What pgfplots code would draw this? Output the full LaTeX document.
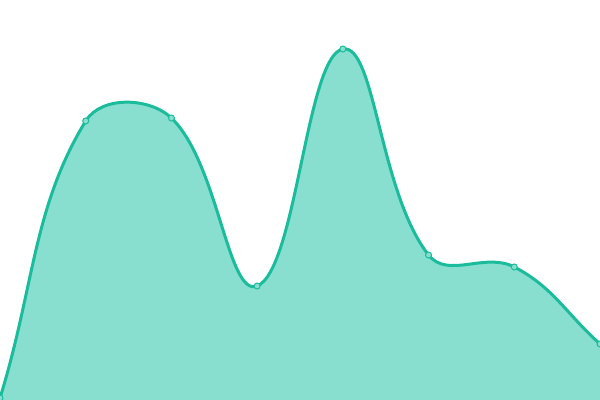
\documentclass[border=0pt]{standalone}
\usepackage{pgfplots}
\pgfplotsset{compat=1.18}
\definecolor{linec}{HTML}{1ABC9C}
\definecolor{fillc}{HTML}{88DFD0}
\makeatletter
% distance-weighted spline plot handler (tension 0.4)
\def\cj@t{0.4}
\newcount\cj@n
\def\cj@controls{%
  \pgfmathsetmacro\cj@da{veclen((\cj@Cx)-(\cj@Px),(\cj@Cy)-(\cj@Py))}%
  \pgfmathsetmacro\cj@db{veclen((\cj@Nx)-(\cj@Cx),(\cj@Ny)-(\cj@Cy))}%
  \pgfmathsetmacro\cj@fa{\cj@t*(\cj@da)/((\cj@da)+(\cj@db))}%
  \pgfmathsetmacro\cj@fb{\cj@t*(\cj@db)/((\cj@da)+(\cj@db))}%
  \pgfmathsetmacro\cj@vx{(\cj@Nx)-(\cj@Px)}%
  \pgfmathsetmacro\cj@vy{(\cj@Ny)-(\cj@Py)}%
  \pgfmathsetmacro\cj@PCx{(\cj@Cx)-(\cj@fa)*(\cj@vx)}%
  \pgfmathsetmacro\cj@PCy{(\cj@Cy)-(\cj@fa)*(\cj@vy)}%
  \pgfmathsetmacro\cj@NCx{(\cj@Cx)+(\cj@fb)*(\cj@vx)}%
  \pgfmathsetmacro\cj@NCy{(\cj@Cy)+(\cj@fb)*(\cj@vy)}%
}
\def\cj@point#1{%
  \pgf@process{#1}%
  \edef\cj@Nx{\pgf@sys@tonumber\pgf@x}\edef\cj@Ny{\pgf@sys@tonumber\pgf@y}%
  \ifnum\cj@n=0
    \pgf@plot@first@action{\pgfqpoint{\cj@Nx pt}{\cj@Ny pt}}%
    \xdef\cj@Px{\cj@Nx}\xdef\cj@Py{\cj@Ny}%
    \xdef\cj@Cx{\cj@Nx}\xdef\cj@Cy{\cj@Ny}%
    \global\cj@n=1
  \else
    \cj@controls
    \ifnum\cj@n>1
      \pgfpathcurveto{\pgfqpoint{\cj@SNx pt}{\cj@SNy pt}}{\pgfqpoint{\cj@PCx pt}{\cj@PCy pt}}{\pgfqpoint{\cj@Cx pt}{\cj@Cy pt}}%
    \fi
    \xdef\cj@SNx{\cj@NCx}\xdef\cj@SNy{\cj@NCy}%
    \xdef\cj@Px{\cj@Cx}\xdef\cj@Py{\cj@Cy}%
    \xdef\cj@Cx{\cj@Nx}\xdef\cj@Cy{\cj@Ny}%
    \global\cj@n=2
  \fi}
\def\cj@finish{%
  \ifnum\cj@n>1
    \pgfmathsetmacro\cj@PCx{(\cj@Cx)-\cj@t*((\cj@Cx)-(\cj@Px))}%
    \pgfmathsetmacro\cj@PCy{(\cj@Cy)-\cj@t*((\cj@Cy)-(\cj@Py))}%
    \pgfpathcurveto{\pgfqpoint{\cj@SNx pt}{\cj@SNy pt}}{\pgfqpoint{\cj@PCx pt}{\cj@PCy pt}}{\pgfqpoint{\cj@Cx pt}{\cj@Cy pt}}%
  \fi
  \global\cj@n=0 }
\pgfdeclareplothandler{\pgfplothandlerweighted}{}{%
  start={\global\cj@n=0\relax},
  point macro=\cj@point,
  end={\cj@finish},
}
\tikzset{weighted smooth/.code={\let\tikz@plot@handler=\pgfplothandlerweighted}}
\makeatother
\begin{document}
\begin{tikzpicture}
\begin{axis}[width=600bp,height=400bp,scale only axis,
  xmin=0,xmax=7,ymin=0,ymax=400,axis line style={draw=none},ticks=none,
  clip=true,clip marker paths=true]
\addplot[draw=none,fill=fillc,weighted smooth] coordinates {(0,2)(1,279)(2,282)(3,114)(4,351)(5,145)(6,133)(7,56)} \closedcycle;
\addplot[linec,line width=3bp,weighted smooth,mark=*,mark size=3bp,
  mark options={fill=fillc,draw=linec,line width=1bp}] coordinates {(0,2)(1,279)(2,282)(3,114)(4,351)(5,145)(6,133)(7,56)};
\end{axis}
\pgfresetboundingbox
\useasboundingbox (0,0) rectangle (600bp,400bp);
\end{tikzpicture}
\end{document}
